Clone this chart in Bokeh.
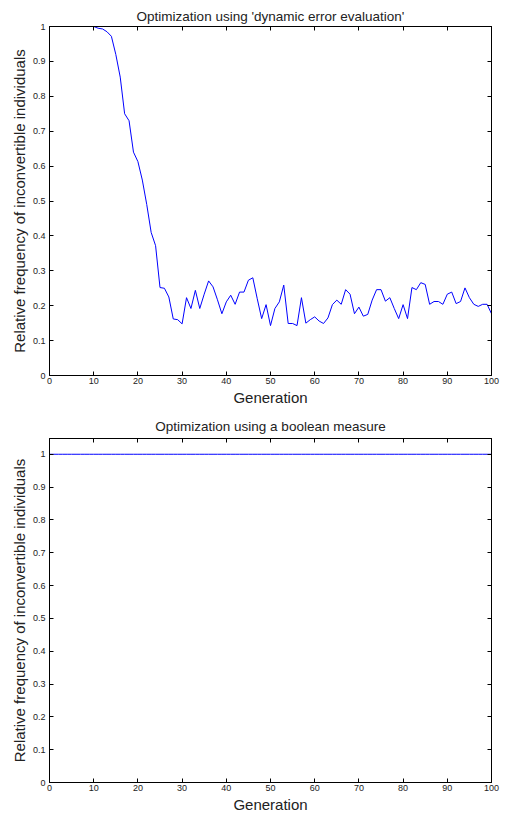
from bokeh.plotting import figure
from bokeh.layouts import column
from bokeh.models import LinearAxis, FixedTicker, CustomJSTickFormatter, Range1d
from bokeh.embed import file_html
from bokeh.resources import INLINE

generations = list(range(0, 101))
dynamic_freq = [
    1.0, 1.0, 1.0, 1.0, 1.0, 1.0, 1.0, 1.0, 1.0, 1.0, 1.0,
    0.995, 0.993, 0.985, 0.972, 0.92, 0.855, 0.75, 0.73, 0.64, 0.613,
    0.56, 0.49, 0.41, 0.372, 0.252, 0.25, 0.225, 0.162, 0.16, 0.148,
    0.223, 0.192, 0.244, 0.192, 0.233, 0.271, 0.254, 0.217, 0.177, 0.211,
    0.230, 0.204, 0.239, 0.239, 0.273, 0.280, 0.220, 0.163, 0.203, 0.143,
    0.192, 0.211, 0.259, 0.149, 0.149, 0.143, 0.223, 0.150, 0.160, 0.168,
    0.156, 0.149, 0.165, 0.203, 0.216, 0.204, 0.246, 0.233, 0.177, 0.196,
    0.170, 0.175, 0.216, 0.246, 0.246, 0.213, 0.223, 0.192, 0.163, 0.203,
    0.163, 0.252, 0.246, 0.266, 0.261, 0.204, 0.212, 0.212, 0.204, 0.233,
    0.239, 0.206, 0.212, 0.251, 0.223, 0.204, 0.198, 0.204, 0.204, 0.177,
]
boolean_freq = [1.0] * 101

x_ticks = [0, 10, 20, 30, 40, 50, 60, 70, 80, 90, 100]
y_ticks = [0, 0.1, 0.2, 0.3, 0.4, 0.5, 0.6, 0.7, 0.8, 0.9, 1.0]

titles = ["Optimization using 'dynamic error evaluation'",
          "Optimization using a boolean measure"]
x_label = "Generation"
y_label = "Relative frequency of inconvertible individuals"

FONT = "Liberation Sans"


def make_plot(title, yvals, ymax, height, top, bottom, title_standoff):
    p = figure(width=501, height=height, output_backend="svg", toolbar_location=None,
               x_range=Range1d(0, 100), y_range=Range1d(0, ymax),
               min_border_left=49, min_border_right=10,
               min_border_top=top, min_border_bottom=bottom,
               background_fill_color="white", border_fill_color="white")
    p.title.text = title
    p.title.text_font = FONT
    p.title.text_font_size = "13.5px"
    p.title.text_font_style = "normal"
    p.title.text_color = "#222222"
    p.title.align = "center"
    p.title.standoff = title_standoff
    p.title.offset = 0
    p.xgrid.visible = False
    p.ygrid.visible = False
    p.outline_line_color = "black"
    p.outline_line_width = 1

    for ax in (p.xaxis[0], p.yaxis[0]):
        ax.major_tick_in = 4
        ax.major_tick_out = 0
        ax.minor_tick_in = 0
        ax.minor_tick_out = 0
        ax.major_label_text_font = FONT
        ax.major_label_text_font_size = "9px"
        ax.major_label_text_color = "#222222"
        ax.axis_label_text_font = FONT
        ax.axis_label_text_font_size = "15px"
        ax.axis_label_text_font_style = "normal"
        ax.axis_label_text_color = "#222222"
        ax.axis_line_color = "black"
        ax.major_tick_line_color = "black"
    p.xaxis[0].ticker = FixedTicker(ticks=x_ticks)
    p.yaxis[0].ticker = FixedTicker(ticks=y_ticks)
    p.yaxis[0].formatter = CustomJSTickFormatter(
        code="var s = tick.toFixed(1); return s.replace(/\\.0$/, '');")
    p.xaxis[0].axis_label = x_label
    p.yaxis[0].axis_label = y_label
    p.xaxis[0].major_label_standoff = 2
    p.xaxis[0].axis_label_standoff = 2
    p.yaxis[0].major_label_standoff = 4
    p.yaxis[0].axis_label_standoff = 2

    for loc, ticks in (("above", x_ticks), ("right", y_ticks)):
        ax = LinearAxis(ticker=FixedTicker(ticks=ticks), major_tick_in=4, major_tick_out=0,
                        minor_tick_in=0, minor_tick_out=0,
                        formatter=CustomJSTickFormatter(code="return '';"),
                        major_label_standoff=0)
        p.add_layout(ax, loc)

    p.line(generations, yvals, line_color="#0000ff", line_width=1)
    return p


p1 = make_plot(titles[0], dynamic_freq, 1.0, 410, 26, 35, 6)
p2 = make_plot(titles[1], boolean_freq, 1.048, 405, 28, 29, 9)

layout = column(p1, p2, spacing=0)
open("out.html", "w").write(file_html(layout, INLINE))
